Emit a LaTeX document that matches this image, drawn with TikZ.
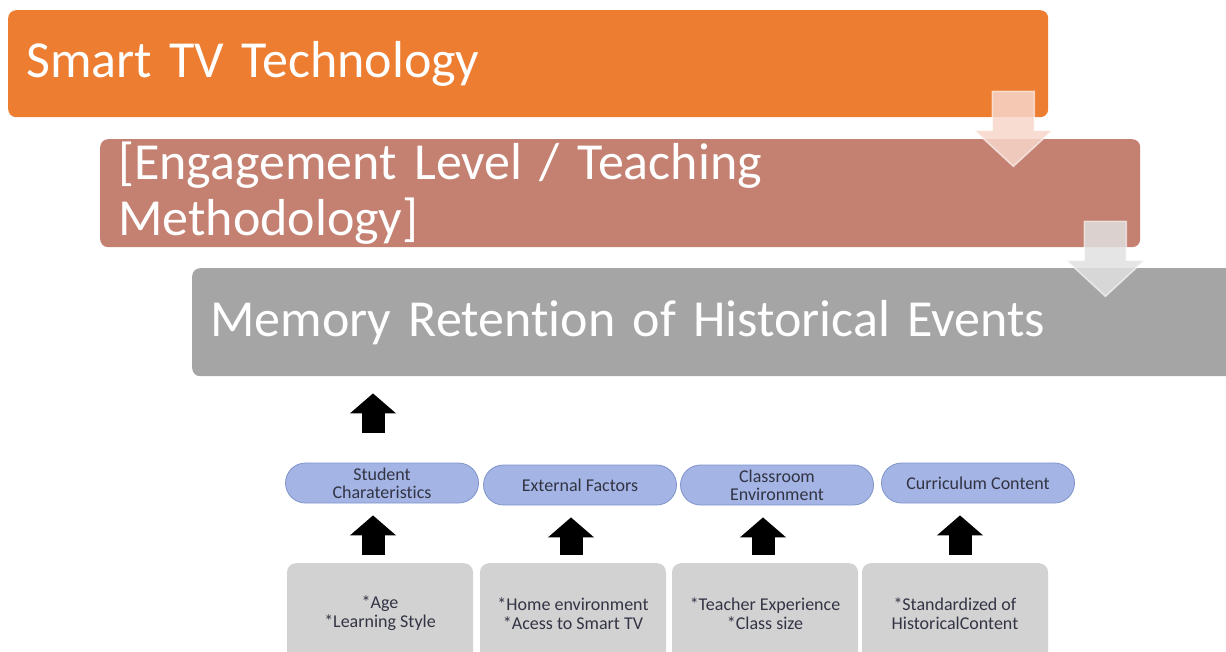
\documentclass[tikz,border=0pt]{standalone}
\usepackage{fontspec}
\setmainfont[Ligatures=NoCommon]{Carlito}
\usetikzlibrary{arrows.meta,calc,shapes.misc,positioning}
\definecolor{stageorange}{RGB}{237,125,49}
\definecolor{stagerose}{RGB}{196,129,114}
\definecolor{stagegray}{RGB}{165,165,165}
\definecolor{fadepink}{RGB}{247,214,202}
\definecolor{fadegray}{RGB}{224,224,224}
\definecolor{factorblue}{RGB}{164,180,228}
\definecolor{factorline}{RGB}{128,148,202}
\definecolor{detailgray}{RGB}{210,210,210}
\definecolor{textdark}{RGB}{50,52,68}
\tikzset{
  flow/.style={
    stage/.style={rectangle, rounded corners=8pt, anchor=north west,
        minimum height=107pt, inner xsep=18pt, inner ysep=0pt, align=left,
        text=white, font={\fontsize{52}{56}\selectfont}, text width=##1},
    fade arrow/.style={fill=##1, fill opacity=0.85, draw=white,
        draw opacity=0.6, line width=1.5pt},
    factor/.style={rounded rectangle, fill=factorblue, draw=factorline,
        line width=0.8pt, minimum width=195pt, minimum height=40pt,
        inner sep=1pt, align=center, text=textdark,
        font={\fontsize{18}{18}\selectfont}},
    detail/.style={rectangle, rounded corners=9pt, fill=detailgray,
        anchor=north, minimum width=186pt, minimum height=100pt,
        align=center, text=textdark, font={\fontsize{18}{19}\selectfont}},
    block arrow/.style={black, line width=23pt,
        -{Triangle[length=20pt,width=45pt]}},
  }
}
\newcommand{\fadearrow}[2]{
    \path[fade arrow=#2] ($(#1.south east)+(-56,-26)$)
        -- ++(42,0) -- ++(0,39) -- ++(18,0) -- ++(-39,36)
        -- ++(-39,-36) -- ++(18,0) -- cycle;
}

\begin{document}
\begin{tikzpicture}[flow, x=1pt, y=-1pt]
    \useasboundingbox (0,0) rectangle (1226,652);
    \node[stage=1004pt, fill=stageorange] (tv) at (8,10) {Smart TV Technology};
    \node[stage=1004pt, fill=stagerose, minimum height=108pt] (engage) at (100,139)
        {[Engagement Level / Teaching\\Methodology]};
    \fadearrow{tv}{fadepink}
    \node[stage=1024pt, fill=stagegray, minimum height=108pt] (memory) at (192,268)
        {Memory Retention of Historical Events};
    \fadearrow{engage}{fadegray}

    \foreach \i/\ex/\ey/\bx/\ax/\f/\d in {
        1/382/483/380/373/{Student\\Charateristics}/{*Age\\*Learning Style},
        2/580/485/573/571/{External Factors}/{*Home environment\\*Acess to Smart TV},
        3/777/485/765/763/{Classroom\\Environment}/{*Teacher Experience\\*Class size},
        4/978/483/955/960/{Curriculum Content}/{*Standardized of\\HistoricalContent}}
    {
        \node[factor] (f\i) at (\ex,\ey) {\f};
        \node[detail] (d\i) at (\bx,563) {\d};
        \draw[block arrow, shorten <=8pt, shorten >=12pt]
            (\ax,0 |- d\i.north) -- (\ax,0 |- f\i.south);
    }
    \draw[block arrow, shorten <=30pt, shorten >=17pt]
        (373,0 |- f1.north) -- (373,0 |- memory.south);
\end{tikzpicture}
\end{document}
